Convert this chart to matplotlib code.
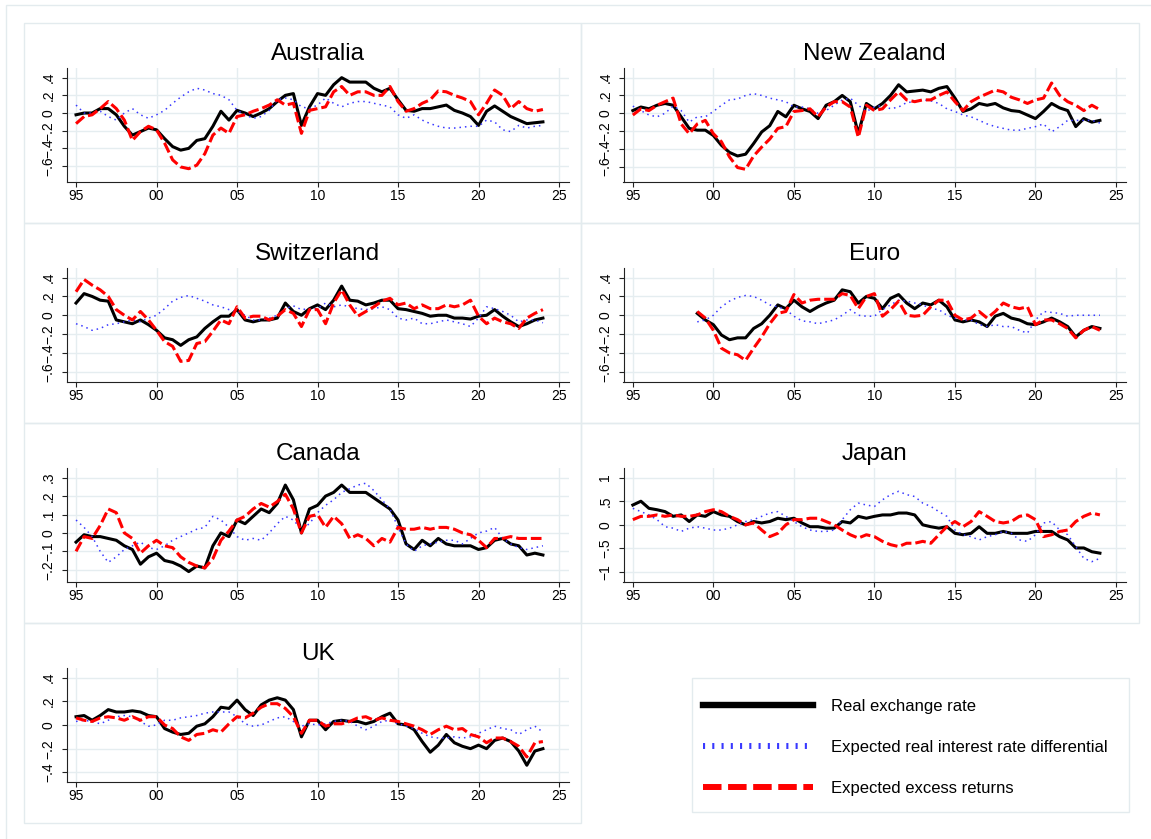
import numpy as np
import matplotlib.pyplot as plt
from matplotlib.lines import Line2D
from matplotlib.patches import Rectangle

plt.rcParams['font.family'] = ['Liberation Sans', 'DejaVu Sans']

# half-year grid, 1995.0 ... 2024.0
years = np.arange(1995, 2024.01, 0.5)
nan = np.nan

# ---- Australia ----
aus_rer = [-0.02, 0.0, 0.0, 0.05, 0.05, -0.02, -0.15, -0.25, -0.21, -0.17,
           -0.19, -0.29, -0.38, -0.42, -0.40, -0.31, -0.29, -0.15, 0.02, -0.08,
           0.03, 0.0, -0.04, 0.0, 0.05, 0.13, 0.20, 0.22, -0.14, 0.07,
           0.22, 0.20, 0.32, 0.40, 0.35, 0.35, 0.35, 0.28, 0.24, 0.28,
           0.15, 0.03, 0.02, 0.05, 0.05, 0.07, 0.09, 0.03, 0.0, -0.04,
           -0.14, 0.02, 0.08, 0.02, -0.04, -0.08, -0.12, -0.11, -0.10]
aus_ird = [0.09, 0.0, 0.0, 0.02, -0.04, -0.08, 0.0, 0.05, -0.02, -0.06,
           -0.02, 0.03, 0.11, 0.18, 0.24, 0.28, 0.26, 0.22, 0.20, 0.15,
           0.03, -0.02, -0.06, -0.04, 0.03, 0.15, 0.17, 0.15, 0.07, 0.05,
           0.09, 0.17, 0.11, 0.07, 0.11, 0.13, 0.13, 0.11, 0.09, 0.07,
           -0.02, -0.06, -0.02, -0.08, -0.12, -0.15, -0.17, -0.17, -0.16, -0.15,
           -0.15, -0.08, -0.10, -0.19, -0.21, -0.14, -0.17, -0.15, -0.14]
aus_exr = [-0.12, -0.04, -0.02, 0.05, 0.13, 0.05, -0.08, -0.31, -0.21, -0.15,
           -0.19, -0.34, -0.53, -0.61, -0.63, -0.59, -0.46, -0.25, -0.17, -0.23,
           -0.04, -0.02, 0.02, 0.05, 0.09, 0.15, 0.09, 0.11, -0.23, 0.03,
           0.05, 0.07, 0.24, 0.30, 0.20, 0.24, 0.24, 0.20, 0.20, 0.30,
           0.13, 0.02, 0.05, 0.11, 0.15, 0.25, 0.24, 0.20, 0.17, 0.13,
           -0.02, 0.11, 0.26, 0.20, 0.05, 0.13, 0.05, 0.02, 0.04]

# ---- New Zealand ----
nz_rer = [0.03, 0.07, 0.05, 0.09, 0.11, 0.09, -0.04, -0.17, -0.19, -0.19,
          -0.25, -0.36, -0.44, -0.48, -0.46, -0.34, -0.21, -0.14, 0.02, -0.04,
          0.09, 0.05, 0.02, -0.06, 0.09, 0.13, 0.20, 0.13, -0.23, 0.11,
          0.05, 0.11, 0.20, 0.32, 0.24, 0.25, 0.26, 0.24, 0.28, 0.30,
          0.17, 0.02, 0.05, 0.11, 0.09, 0.11, 0.06, 0.03, 0.02, -0.02,
          -0.06, 0.02, 0.11, 0.06, 0.03, -0.15, -0.06, -0.10, -0.08]
nz_ird = [0.08, 0.03, -0.02, -0.04, 0.0, 0.08, 0.03, -0.10, -0.04, -0.04,
          0.02, 0.09, 0.15, 0.16, 0.20, 0.22, 0.20, 0.17, 0.15, 0.13,
          0.07, 0.07, 0.05, 0.0, 0.03, 0.09, 0.15, 0.17, 0.09, 0.02,
          0.07, 0.09, 0.05, 0.07, 0.12, 0.13, 0.15, 0.14, 0.11, 0.05,
          0.02, -0.02, -0.04, -0.08, -0.12, -0.15, -0.17, -0.19, -0.19, -0.17,
          -0.15, -0.12, -0.21, -0.15, -0.08, -0.08, -0.08, -0.08, -0.11]
nz_exr = [-0.02, 0.05, 0.03, 0.09, 0.13, 0.17, -0.12, -0.23, -0.12, -0.08,
          -0.23, -0.32, -0.49, -0.61, -0.63, -0.48, -0.38, -0.29, -0.17, -0.15,
          0.02, 0.03, 0.05, -0.04, 0.07, 0.13, 0.13, 0.07, -0.27, 0.09,
          0.03, 0.05, 0.15, 0.24, 0.15, 0.13, 0.15, 0.15, 0.20, 0.24,
          0.13, 0.03, 0.13, 0.18, 0.22, 0.26, 0.24, 0.18, 0.15, 0.11,
          0.15, 0.17, 0.34, 0.20, 0.13, 0.09, 0.03, 0.09, 0.04]

# ---- Switzerland ----
ch_rer = [0.13, 0.23, 0.20, 0.16, 0.15, -0.05, -0.07, -0.09, -0.05, -0.10,
          -0.16, -0.24, -0.26, -0.32, -0.26, -0.23, -0.14, -0.07, -0.01, -0.01,
          0.06, -0.05, -0.07, -0.05, -0.05, -0.03, 0.13, 0.04, 0.0, 0.07,
          0.11, 0.06, 0.16, 0.31, 0.16, 0.15, 0.11, 0.13, 0.16, 0.16,
          0.07, 0.06, 0.04, 0.02, -0.01, 0.0, 0.0, -0.03, -0.03, -0.04,
          -0.01, 0.0, 0.06, -0.01, -0.07, -0.12, -0.09, -0.05, -0.03]
ch_ird = [-0.09, -0.12, -0.16, -0.14, -0.10, -0.09, -0.07, -0.05, -0.07, -0.03,
          0.0, 0.07, 0.15, 0.19, 0.21, 0.18, 0.15, 0.11, 0.09, 0.06,
          0.04, 0.0, -0.05, -0.05, -0.03, 0.0, 0.07, 0.10, 0.06, 0.07,
          0.07, 0.13, 0.09, 0.11, 0.09, 0.07, 0.06, 0.07, 0.09, 0.06,
          -0.03, -0.05, -0.03, -0.09, -0.09, -0.07, -0.05, -0.07, -0.09, -0.12,
          -0.03, 0.09, 0.07, 0.04, 0.0, -0.07, -0.05, -0.05, -0.08]
ch_exr = [0.25, 0.38, 0.32, 0.27, 0.20, 0.06, 0.0, -0.05, 0.04, -0.05,
          -0.16, -0.28, -0.33, -0.49, -0.48, -0.30, -0.28, -0.17, -0.05, -0.09,
          0.09, -0.03, -0.01, -0.01, -0.05, -0.01, 0.06, 0.02, -0.12, 0.06,
          0.06, -0.09, 0.13, 0.27, 0.11, -0.01, 0.04, 0.09, 0.15, 0.18,
          0.11, 0.13, 0.07, 0.11, 0.07, 0.07, 0.11, 0.09, 0.11, 0.16,
          -0.01, -0.09, -0.03, -0.07, -0.09, -0.14, -0.03, 0.02, 0.06]

# ---- Euro (starts 1999) ----
eu_rer = [nan] * 8 + [0.02, -0.05,
          -0.10, -0.21, -0.26, -0.24, -0.24, -0.14, -0.09, 0.0, 0.11, 0.07,
          0.16, 0.09, 0.04, 0.09, 0.13, 0.16, 0.27, 0.25, 0.13, 0.20,
          0.18, 0.07, 0.18, 0.22, 0.13, 0.07, 0.13, 0.11, 0.16, 0.09,
          -0.05, -0.07, -0.05, -0.07, -0.12, -0.01, 0.02, -0.03, -0.05, -0.09,
          -0.10, -0.07, -0.03, -0.07, -0.12, -0.23, -0.16, -0.12, -0.14]
eu_ird = [nan] * 8 + [-0.07, -0.05,
          0.0, 0.09, 0.15, 0.19, 0.21, 0.20, 0.16, 0.11, 0.09, 0.06,
          -0.01, -0.06, -0.07, -0.09, -0.07, -0.05, 0.0, 0.06, 0.0, -0.01,
          -0.01, 0.06, 0.11, 0.16, 0.15, 0.13, 0.11, 0.07, 0.06, 0.0,
          -0.03, -0.05, -0.05, -0.10, -0.12, -0.10, -0.12, -0.12, -0.16, -0.19,
          -0.05, 0.04, 0.03, 0.02, -0.01, 0.0, 0.0, 0.0, 0.0]
eu_exr = [nan] * 8 + [0.04, -0.03,
          -0.16, -0.35, -0.40, -0.42, -0.48, -0.35, -0.23, -0.09, 0.02, 0.04,
          0.22, 0.13, 0.16, 0.17, 0.17, 0.17, 0.23, 0.21, 0.07, 0.20,
          0.23, -0.01, 0.06, 0.15, 0.0, -0.01, 0.0, 0.09, 0.16, 0.16,
          0.0, -0.05, -0.03, 0.04, -0.03, 0.04, 0.13, 0.09, 0.07, 0.09,
          -0.10, -0.05, -0.05, -0.09, -0.14, -0.24, -0.16, -0.12, -0.16]

# ---- Canada ----
ca_rer = [-0.05, -0.01, -0.02, -0.02, -0.03, -0.04, -0.07, -0.09, -0.17, -0.13,
          -0.11, -0.15, -0.16, -0.18, -0.21, -0.18, -0.19, -0.07, 0.0, -0.02,
          0.07, 0.05, 0.09, 0.13, 0.11, 0.16, 0.26, 0.18, 0.0, 0.13,
          0.15, 0.20, 0.22, 0.26, 0.22, 0.22, 0.22, 0.19, 0.16, 0.13,
          0.07, -0.06, -0.09, -0.04, -0.07, -0.03, -0.06, -0.07, -0.07, -0.07,
          -0.09, -0.08, -0.04, -0.03, -0.06, -0.07, -0.12, -0.11, -0.12]
ca_ird = [0.07, 0.03, -0.02, -0.10, -0.16, -0.13, -0.09, -0.07, -0.05, -0.08,
          -0.09, -0.07, -0.04, -0.02, 0.0, 0.02, 0.03, 0.09, 0.07, 0.03,
          -0.02, -0.04, -0.03, -0.04, 0.0, 0.05, 0.09, 0.07, 0.02, 0.05,
          0.11, 0.15, 0.18, 0.22, 0.24, 0.26, 0.27, 0.23, 0.18, 0.13,
          0.03, -0.06, -0.10, -0.07, -0.06, -0.05, -0.04, -0.04, -0.06, -0.03,
          0.0, 0.01, 0.03, -0.03, -0.06, -0.08, -0.09, -0.08, -0.07]
ca_exr = [-0.10, -0.02, -0.03, 0.04, 0.13, 0.11, 0.0, -0.03, -0.11, -0.07,
          -0.04, -0.07, -0.08, -0.13, -0.16, -0.18, -0.19, -0.14, -0.04, 0.01,
          0.07, 0.09, 0.13, 0.16, 0.14, 0.17, 0.21, 0.13, 0.0, 0.09,
          0.10, 0.03, 0.09, 0.05, -0.03, -0.01, -0.03, -0.07, -0.03, -0.05,
          0.03, 0.02, 0.02, 0.03, 0.02, 0.03, 0.03, 0.02, 0.0, -0.01,
          -0.04, -0.08, -0.03, -0.03, -0.02, -0.03, -0.03, -0.03, -0.03]

# ---- Japan ----
jp_rer = [0.42, 0.50, 0.35, 0.32, 0.28, 0.18, 0.21, 0.07, 0.21, 0.18,
          0.28, 0.21, 0.18, 0.07, 0.0, 0.07, 0.04, 0.07, 0.14, 0.11,
          0.14, 0.04, -0.04, -0.04, -0.07, -0.07, 0.07, 0.04, 0.18, 0.14,
          0.18, 0.21, 0.21, 0.25, 0.25, 0.21, 0.0, -0.04, -0.07, -0.04,
          -0.18, -0.21, -0.18, -0.04, -0.18, -0.18, -0.14, -0.18, -0.18, -0.18,
          -0.14, -0.14, -0.14, -0.25, -0.32, -0.49, -0.49, -0.57, -0.60]
jp_ird = [0.35, 0.28, 0.21, 0.11, -0.04, -0.07, -0.14, -0.07, -0.04, -0.07,
          -0.11, -0.11, -0.07, 0.0, 0.07, 0.11, 0.18, 0.25, 0.28, 0.18,
          0.07, -0.04, -0.11, -0.14, -0.14, -0.11, 0.11, 0.32, 0.46, 0.42,
          0.39, 0.53, 0.64, 0.71, 0.64, 0.60, 0.46, 0.39, 0.28, 0.18,
          -0.11, -0.21, -0.25, -0.32, -0.25, -0.21, -0.14, -0.18, -0.32, -0.35,
          -0.21, 0.04, 0.07, -0.11, -0.21, -0.46, -0.71, -0.78, -0.71]
jp_exr = [0.11, 0.18, 0.18, 0.21, 0.18, 0.21, 0.18, 0.18, 0.21, 0.28,
          0.32, 0.28, 0.18, 0.11, 0.0, 0.04, -0.11, -0.25, -0.18, 0.0,
          0.11, 0.11, 0.14, 0.14, 0.07, 0.0, -0.11, -0.21, -0.28, -0.21,
          -0.25, -0.35, -0.42, -0.46, -0.39, -0.39, -0.35, -0.39, -0.21, -0.04,
          0.07, -0.04, 0.07, 0.28, 0.18, 0.07, 0.04, 0.07, 0.18, 0.21,
          0.11, -0.25, -0.21, -0.14, -0.11, 0.07, 0.18, 0.25, 0.21]

# ---- UK ----
uk_rer = [0.07, 0.08, 0.04, 0.08, 0.13, 0.11, 0.11, 0.12, 0.11, 0.08,
          0.07, -0.03, -0.06, -0.08, -0.07, -0.01, 0.01, 0.07, 0.15, 0.14,
          0.21, 0.13, 0.08, 0.17, 0.21, 0.23, 0.21, 0.13, -0.10, 0.04,
          0.04, -0.04, 0.03, 0.04, 0.03, 0.03, 0.01, 0.03, 0.07, 0.10,
          0.01, 0.0, -0.04, -0.14, -0.23, -0.17, -0.08, -0.15, -0.18, -0.20,
          -0.17, -0.20, -0.13, -0.11, -0.14, -0.22, -0.34, -0.22, -0.20]
uk_ird = [0.03, 0.04, 0.03, 0.01, 0.04, 0.07, 0.08, 0.07, 0.03, -0.01,
          0.0, 0.04, 0.04, 0.06, 0.07, 0.08, 0.10, 0.11, 0.11, 0.11,
          0.07, 0.01, -0.01, 0.0, 0.03, 0.06, 0.07, 0.03, -0.01, 0.01,
          0.0, 0.01, 0.03, 0.04, 0.03, -0.01, -0.04, -0.01, 0.03, 0.04,
          0.01, -0.01, -0.03, -0.07, -0.10, -0.11, -0.11, -0.10, -0.11, -0.10,
          -0.07, -0.04, -0.01, -0.03, -0.04, -0.08, -0.04, -0.01, -0.06]
uk_exr = [0.06, 0.04, 0.03, 0.06, 0.07, 0.06, 0.04, 0.07, 0.04, 0.07,
          0.07, 0.0, -0.03, -0.10, -0.13, -0.08, -0.07, -0.04, -0.06, 0.01,
          0.07, 0.06, 0.10, 0.15, 0.18, 0.18, 0.14, 0.07, -0.07, 0.04,
          0.04, -0.01, 0.01, 0.01, 0.03, 0.06, 0.07, 0.04, 0.06, 0.04,
          0.03, 0.01, -0.01, -0.04, -0.08, -0.04, -0.01, -0.04, -0.03, -0.08,
          -0.10, -0.15, -0.11, -0.11, -0.14, -0.18, -0.27, -0.15, -0.14]

xticks = [1995, 2000, 2005, 2010, 2015, 2020, 2025]
xticklabels = ["95", "00", "05", "10", "15", "20", "25"]
legend_labels = ["Real exchange rate",
                 "Expected real interest rate differential",
                 "Expected excess returns"]

# name, series, ylim, yticks, column, row
panels = [
    ("Australia", aus_rer, aus_ird, aus_exr, (-0.777, 0.506), np.arange(-0.6, 0.41, 0.2), 0, 0),
    ("New Zealand", nz_rer, nz_ird, nz_exr, (-0.769, 0.505), np.arange(-0.6, 0.41, 0.2), 1, 0),
    ("Switzerland", ch_rer, ch_ird, ch_exr, (-0.706, 0.499), np.arange(-0.6, 0.41, 0.2), 0, 1),
    ("Euro", eu_rer, eu_ird, eu_exr, (-0.706, 0.499), np.arange(-0.6, 0.41, 0.2), 1, 1),
    ("Canada", ca_rer, ca_ird, ca_exr, (-0.265, 0.351), np.arange(-0.2, 0.31, 0.1), 0, 2),
    ("Japan", jp_rer, jp_ird, jp_exr, (-1.205, 1.198), np.arange(-1.0, 1.01, 0.5), 1, 2),
    ("UK", uk_rer, uk_ird, uk_exr, (-0.479, 0.479), np.arange(-0.4, 0.41, 0.2), 0, 3),
]

W, H = 1151, 839
BLUE = (0.22, 0.22, 1.0)
GRID = "#e5edf0"
FRAME = "#e3ebee"


def fig_box(x0, y0, x1, y1):
    return [x0 / W, 1 - y1 / H, (x1 - x0) / W, (y1 - y0) / H]


def stata_label(v):
    s = f"{round(v, 2):g}"
    s = s.replace("0.", ".")
    return s.replace("-", "\u2212")


fig = plt.figure(figsize=(W / 100, H / 100), dpi=100)

# outer graph region and sub-graph borders
fig.add_artist(Rectangle((6 / W, -0.02), 1.0, 1 - 5 / H + 0.02, transform=fig.transFigure,
                         fill=False, edgecolor=FRAME, lw=1.0))
for col, row in [(0, 0), (1, 0), (0, 1), (1, 1), (0, 2), (1, 2), (0, 3)]:
    bx0, bx1 = (24, 581) if col == 0 else (581, 1139)
    b = fig_box(bx0, 23 + 200 * row, bx1, 223 + 200 * row)
    fig.add_artist(Rectangle((b[0], b[1]), b[2], b[3], transform=fig.transFigure,
                             fill=False, edgecolor=FRAME, lw=1.0))

for name, rer, ird, exr, ylim, yticks, col, row in panels:
    x0, x1 = (66.7, 569.0) if col == 0 else (623.5, 1126.0)
    ax = fig.add_axes(fig_box(x0, 68.3 + 200 * row, x1, 181.7 + 200 * row))
    ax.plot(years, rer, color="black", lw=2.2, zorder=3)
    ax.plot(years, ird, color=BLUE, lw=1.1, linestyle=(0, (1, 2.6)), zorder=4)
    ax.plot(years, exr, color="red", lw=2.2, linestyle=(0, (3.5, 1.3)), zorder=5)

    ax.set_xlim(1994.42, 2025.62)
    ax.set_ylim(*ylim)
    ax.set_xticks(xticks)
    ax.set_xticklabels(xticklabels)
    ax.set_yticks(yticks)
    ax.set_yticklabels([stata_label(v) for v in yticks], rotation=90, va="center")
    ax.grid(True, color=GRID, lw=1.0, zorder=0)
    ax.set_axisbelow(True)
    for side in ["top", "right"]:
        ax.spines[side].set_visible(False)
    for side in ["left", "bottom"]:
        ax.spines[side].set_color("#222222")
        ax.spines[side].set_linewidth(0.8)
    ax.tick_params(axis="both", direction="out", length=3.5, width=0.8,
                   color="#222222", labelsize=10)
    ax.tick_params(axis="x", pad=2)
    ax.tick_params(axis="y", pad=4.5)
    ax.set_title(name, fontsize=17.5, pad=5.7)

# legend
lb = fig_box(691.7, 678.3, 1129.3, 812)
fig.add_artist(Rectangle((lb[0], lb[1]), lb[2], lb[3], transform=fig.transFigure,
                         fill=False, edgecolor=FRAME, lw=1.0))
handles = [
    Line2D([], [], color="black", lw=4.6),
    Line2D([], [], color=BLUE, lw=4.3, linestyle=(0, (0.35, 1.2))),
    Line2D([], [], color="red", lw=4.3, linestyle=(0, (3.1, 1.1))),
]
fig.legend(handles, legend_labels, loc="upper left",
           bbox_to_anchor=(703 / W, 1 - 699 / H), frameon=False,
           borderpad=0, borderaxespad=0, handlelength=6.6, handletextpad=1.08,
           labelspacing=1.55, fontsize=12)

fig.savefig("out.png", dpi=100)
